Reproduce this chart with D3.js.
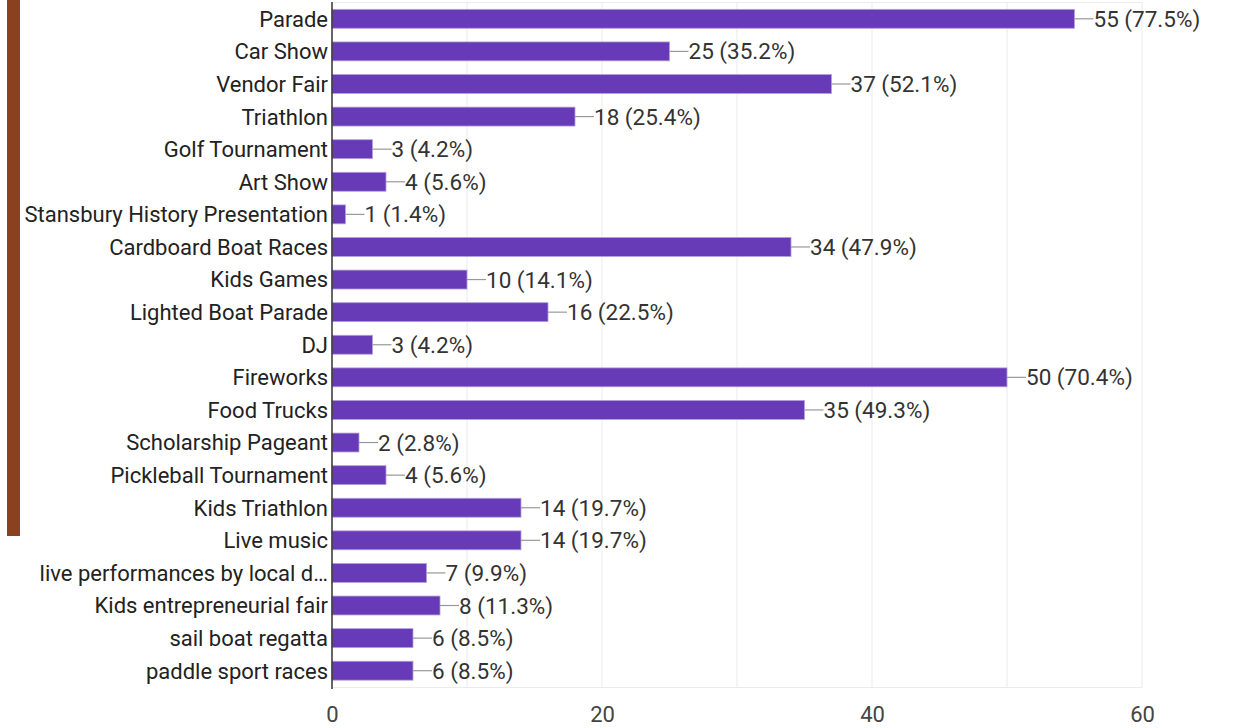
<!DOCTYPE html>
<html><head><meta charset="utf-8">
<script src="https://cdn.jsdelivr.net/npm/d3@7"></script>
<style>body{margin:0;background:#fff;}svg{display:block;}</style>
</head><body>
<script>
const categories = ["Parade","Car Show","Vendor Fair","Triathlon","Golf Tournament","Art Show","Stansbury History Presentation","Cardboard Boat Races","Kids Games","Lighted Boat Parade","DJ","Fireworks","Food Trucks","Scholarship Pageant","Pickleball Tournament","Kids Triathlon","Live music","live performances by local d…","Kids entrepreneurial fair","sail boat regatta","paddle sport races"];
const counts = [55,25,37,18,3,4,1,34,10,16,3,50,35,2,4,14,14,7,8,6,6];
const percents = ["77.5%","35.2%","52.1%","25.4%","4.2%","5.6%","1.4%","47.9%","14.1%","22.5%","4.2%","70.4%","49.3%","2.8%","5.6%","19.7%","19.7%","9.9%","11.3%","8.5%","8.5%"];
const tickValues = [0,20,40,60];
const gridValues = [10,20,30,40,50,60];

const W=1235,H=728;
const svg=d3.select("body").append("svg").attr("width",W).attr("height",H);
const font="Roboto, Arial, sans-serif";

svg.append("rect").attr("x",7).attr("y",0).attr("width",13).attr("height",536).attr("fill","#8B4020");

const x=d3.scaleLinear().domain([0,60]).range([332,1142]);
const y=d3.scaleBand().domain(categories).range([2.5,687]).paddingInner(0.42).paddingOuter(0.21);

// grid
svg.append("g").selectAll("line").data(gridValues).join("line")
 .attr("x1",d=>x(d)).attr("x2",d=>x(d)).attr("y1",2).attr("y2",687)
 .attr("stroke","#ebebeb").attr("stroke-width",1);
svg.append("line").attr("x1",x(0)).attr("x2",x(60)).attr("y1",687.5).attr("y2",687.5).attr("stroke","#ebebeb");
svg.append("line").attr("x1",x(0)).attr("x2",x(60)).attr("y1",2.5).attr("y2",2.5).attr("stroke","#ebebeb");

// bars
svg.append("g").selectAll("rect").data(counts).join("rect")
 .attr("x",x(0)).attr("y",(d,i)=>y(categories[i]))
 .attr("width",d=>x(d)-x(0)).attr("height",y.bandwidth())
 .attr("fill","#673AB7").attr("stroke","#b39ddb").attr("stroke-width",0.8);

// connectors and labels
const lab=svg.append("g");
counts.forEach((d,i)=>{
  const cy=y(categories[i])+y.bandwidth()/2;
  lab.append("line").attr("x1",x(d)).attr("x2",x(d)+19).attr("y1",cy).attr("y2",cy).attr("stroke","#999").attr("stroke-width",1.2);
  lab.append("text").attr("x",x(d)+19).attr("y",cy).attr("dy","0.36em")
   .attr("font-family",font).attr("font-size",22.5).attr("fill","#333")
   .text(d+" ("+percents[i]+")");
});

// y axis
const ya=svg.append("g").attr("transform",`translate(${x(0)},0)`).call(d3.axisLeft(y).tickSize(0).tickPadding(4));
ya.select(".domain").attr("stroke","#333").attr("stroke-width",1.5).attr("d","M0,2V689");
ya.selectAll("text").attr("font-family",font).attr("font-size",22).attr("fill","#222").attr("dy","0.36em");

// x axis
const xa=svg.append("g").attr("transform","translate(0,688)").call(d3.axisBottom(x).tickValues(tickValues).tickSize(0).tickPadding(18));
xa.select(".domain").remove();
xa.selectAll("text").attr("font-family",font).attr("font-size",22).attr("fill","#444");
</script>
</body></html>
